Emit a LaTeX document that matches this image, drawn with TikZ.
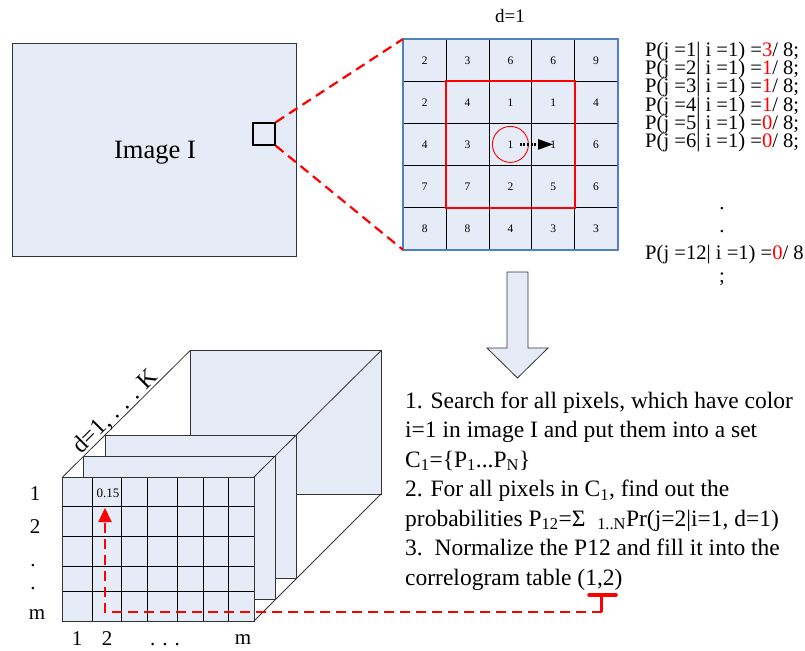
\documentclass[tikz,border=0pt]{standalone}
\usepackage{fontspec}
\setmainfont{Liberation Serif}
\usetikzlibrary{arrows.meta}
\definecolor{cellfill}{HTML}{E6ECF7}
\definecolor{gridblue}{HTML}{4F81BD}
\definecolor{redline}{HTML}{FF0000}
\tikzset{
  reddash/.style={draw=redline, line width=2.2pt, dash pattern=on 10pt off 6pt},
  face/.style={fill=cellfill, draw=black!80, line width=0.8pt},
  ptxt/.style={inner sep=0pt, anchor=base west, font=\fontsize{20.6}{22}\selectfont},
  btxt/.style={inner sep=0pt, anchor=base west, font=\fontsize{23.5}{26}\selectfont},
  lbl/.style={inner sep=0pt, anchor=base, font=\fontsize{21}{24}\selectfont},
  cellnum/.style={inner sep=0pt, font=\fontsize{11.5}{13}\selectfont},
}
\newcommand{\pline}[2]{P(j =#1| i =1) =\textcolor{redline}{#2}/ 8;}
\begin{document}
\begin{tikzpicture}[x=1pt,y=-1pt]
\useasboundingbox (0,0) rectangle (805,650);

% ---------- Image I ----------
\node[draw=black!80, fill=cellfill, line width=0.8pt, minimum width=284pt, minimum height=213pt, inner sep=0pt, anchor=north west] (img) at (12,43) {};
\node[inner sep=0pt, anchor=base, font=\fontsize{26.5}{30}\selectfont] (imgtxt) at (155,158) {Image I};
\node[draw=black, line width=1.5pt, minimum size=22pt, inner sep=0pt] (win) at (264,134) {};

% ---------- top grid ----------
\foreach \r/\row in {0/{2,3,6,6,9},1/{2,4,1,1,4},2/{4,3,1,1,6},3/{7,7,2,5,6},4/{8,8,4,3,3}} {
  \foreach \v [count=\c from 0] in \row {
    \node[cellnum, fill=cellfill, draw=black, line width=0.8pt, minimum width=42.8pt, minimum height=42pt, anchor=north west]
      (g-\c-\r) at ({403+42.8*\c},{39+42*\r}) {};
    \node[cellnum] (n-\c-\r) at (g-\c-\r.center) {\v};
  }
}
\draw[gridblue, line width=1.5pt] (g-0-0.north west) rectangle (g-4-4.south east);
\draw[redline, line width=1.6pt] (g-1-1.north west) rectangle (g-3-3.south east);
\node[circle, draw=redline, line width=0.9pt, minimum size=36pt, inner sep=0pt] (circ) at (g-2-2.center) {};
\draw[line width=2.2pt, dash pattern=on 2pt off 1.6pt, -{Triangle[length=15pt,width=10pt]}]
  ([xshift=-9pt]circ.east) -- (g-3-2.center);
\node[inner sep=0pt, anchor=base, font=\fontsize{19}{22}\selectfont] (dlbl) at (510,23) {d=1};

% zoom lines
\draw[reddash] (win.north east) -- (g-0-0.north west);
\draw[reddash] (win.south east) -- (g-0-4.south west);

% ---------- probability list ----------
\node[ptxt] (p1) at (645,57) {\pline{1}{3}};
\node[ptxt] (p2) at (645,75) {\pline{2}{1}};
\node[ptxt] (p3) at (645,93) {\pline{3}{1}};
\node[ptxt] (p4) at (645,111) {\pline{4}{1}};
\node[ptxt] (p5) at (645,129) {\pline{5}{0}};
\node[ptxt] (p6) at (645,147) {\pline{6}{0}};
\node[ptxt, anchor=base] (pd1) at (722,209) {.};
\node[ptxt, anchor=base] (pd2) at (722,232) {.};
\node[ptxt] (p12) at (645,259) {P(j =12| i =1) =\textcolor{redline}{0}/ 8};
\node[ptxt, anchor=base] (psemi) at (722,282) {;};

% ---------- big down arrow ----------
\draw[fill=cellfill, draw=black!80, line width=0.8pt]
  (507,272) coordinate (ba) -- (528,272) -- (528,348) -- (548,348) -- (517.5,378) -- (487,348) -- (507,348) -- cycle;

% ---------- steps text ----------
\node[btxt] (s1) at (405,408) {1. Search for all pixels, which have color};
\node[btxt] (s2) at (405,437.5) {i=1 in image I and put them into a set};
\node[btxt] (s3) at (405,467) {C\textsubscript{1}=\{P\textsubscript{1}...P\textsubscript{N}\}};
\node[btxt] (s4) at (405,496.5) {2. For all pixels in C\textsubscript{1}, find out the};
\node[btxt] (s5) at (405,526) {probabilities P\textsubscript{12}=Σ\ \ \textsubscript{1..N}Pr(j=2|i=1, d=1)};
\node[btxt] (s6) at (405,555.5) {3.\ \ Normalize the P12 and fill it into the};
\node[btxt] (s7) at (405,585) {correlogram table (1,2)};

% ---------- correlogram cube ----------
\draw[face] (190,350.7) rectangle (381,494);
\draw[face] (105.3,435.7) rectangle (296.7,578);
\draw[face] (83.3,456.7) rectangle (275,599.5);
\fill[cellfill] (62.7,477) rectangle (254,621);
\foreach \x in {92.7,121.7,147.7,177.7,203.3,228.3}
  \draw[black, line width=0.8pt] (\x,477) -- (\x,621);
\foreach \y in {506.7,536.7,566.7,591.7}
  \draw[black, line width=0.8pt] (62.7,\y) -- (254,\y);
\draw[black!80, line width=0.8pt] (62.7,477) rectangle (254,621);
\coordinate (ftl) at (62.7,477);
\coordinate (ftr) at (254,477);
\coordinate (fbr) at (254,621);
\coordinate (btl) at (190,350.7);
\coordinate (btr) at (381,350.7);
\coordinate (bbr) at (381,494);
\draw[black!80, line width=0.8pt] (ftl) -- (btl);
\draw[black!80, line width=0.8pt] (ftr) -- (btr);
\draw[black!80, line width=0.8pt] (fbr) -- (bbr);
\node[inner sep=0pt, anchor=base, rotate=45, font=\fontsize{24}{26}\selectfont] (dk) at (120,416.5) {d=1, . . . K};
\node[inner sep=0pt, font=\fontsize{13}{15}\selectfont] (v015) at (108,493) {0.15};

% row/column labels
\node[lbl] (r1) at (35,500) {1};
\node[lbl] (r2) at (35,533) {2};
\node[lbl] (r3) at (33,566) {.};
\node[lbl] (r4) at (33,589) {.};
\node[lbl] (rm) at (37,619) {m};
\node[lbl] (c1) at (77,645) {1};
\node[lbl] (c2) at (107,645) {2};
\node[lbl] (c3) at (165,645) {. . .};
\node[lbl] (cm) at (243,644) {m};

% ---------- red link to table ----------
\coordinate (tee) at (601.7,612);
\coordinate (corner) at (105,612);
\coordinate (tip) at (105,508);
\draw[reddash, -{Triangle[length=14pt,width=13pt]}] (tee) -- (corner) -- (tip);
\draw[redline, line width=3pt] (tee) -- (601.7,595) coordinate (teetop);
\draw[redline, line width=3.5pt, line cap=round] (589,595) -- (616,595);
\end{tikzpicture}
\end{document}
